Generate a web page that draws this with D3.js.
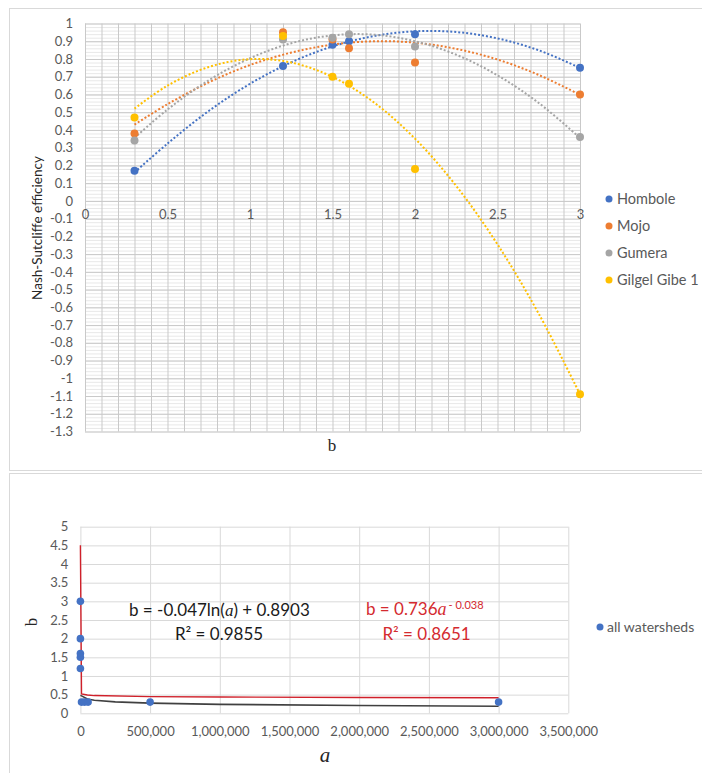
<!DOCTYPE html>
<html>
<head>
<meta charset="utf-8">
<script src="https://cdn.jsdelivr.net/npm/d3@7"></script>
<style>
  body { margin: 0; background: #fff; }
  svg { display: block; font-family: Lato, "Noto Sans", sans-serif; }
</style>
</head>
<body>
<div id="chart"></div>
<script>
// ----------------------------
// Data
// ----------------------------

// top panel: NSE against b for four watersheds
const seriesNames = ["Hombole", "Mojo", "Gumera", "Gilgel Gibe 1"];
const seriesColors = ["#4472C4", "#ED7D31", "#A5A5A5", "#FFC000"];
const bValues = [0.3, 1.2, 1.5, 1.6, 2, 3];
const hombole = [0.17, 0.76, 0.88, 0.90, 0.94, 0.75];
const mojo = [0.38, 0.95, 0.91, 0.86, 0.78, 0.60];
const gumera = [0.34, 0.91, 0.92, 0.94, 0.87, 0.36];
const gilgelGibe = [0.47, 0.93, 0.70, 0.66, 0.18, -1.09];

// dotted polynomial trendlines
const trendB = [0.3, 0.5, 0.75, 1, 1.25, 1.5, 1.75, 2, 2.25, 2.5, 2.75, 3];
const hombole_trend = [0.16, 0.323, 0.507, 0.66, 0.781, 0.871, 0.929, 0.956, 0.952, 0.916, 0.849, 0.75];
const mojo_trend = [0.43, 0.545, 0.668, 0.766, 0.836, 0.881, 0.90, 0.892, 0.857, 0.797, 0.71, 0.598];
const gumera_trend = [0.355, 0.515, 0.68, 0.804, 0.889, 0.933, 0.937, 0.90, 0.824, 0.708, 0.552, 0.355];
const gilgel_trend = [0.52, 0.65, 0.755, 0.799, 0.78, 0.699, 0.556, 0.351, 0.084, -0.245, -0.636, -1.09];

const topYTicks = [1, 0.9, 0.8, 0.7, 0.6, 0.5, 0.4, 0.3, 0.2, 0.1, 0, -0.1, -0.2, -0.3, -0.4, -0.5, -0.6, -0.7, -0.8, -0.9, -1, -1.1, -1.2, -1.3];
const topXTicks = [0, 0.5, 1, 1.5, 2, 2.5, 3];

// bottom panel: b against a for all watersheds
const aAll = [2, 5, 8, 10, 20, 8000, 30000, 55000, 500000, 3000000];
const bAll = [3, 2, 1.6, 1.5, 1.2, 0.3, 0.3, 0.3, 0.3, 0.3];

// trendlines as drawn (log = black, power = red)
const logTrendA = [0, 8000, 50000, 100000, 250000, 500000, 1000000, 2000000, 3000000];
const logTrendB = [0.48, 0.467, 0.383, 0.35, 0.306, 0.273, 0.24, 0.208, 0.189];
const powTrendA = [0, 8000, 50000, 100000, 500000, 1000000, 2000000, 3000000];
const powTrendB = [4.5, 0.52, 0.49, 0.475, 0.447, 0.436, 0.425, 0.417];

const botYTicks = [0, 0.5, 1, 1.5, 2, 2.5, 3, 3.5, 4, 4.5, 5];
const botXTicks = [0, 500000, 1000000, 1500000, 2000000, 2500000, 3000000, 3500000];

const width = 702;
const height = 773;
const tickColor = "#595959";

const svg = d3.create("svg")
    .attr("width", width)
    .attr("height", height)
    .attr("viewBox", [0, 0, width, height]);

// panel frames
svg.append("rect").attr("x", 9.5).attr("y", 8.5).attr("width", 720).attr("height", 462)
    .attr("fill", "none").attr("stroke", "#d9d9d9");
svg.append("rect").attr("x", 9.5).attr("y", 473.5).attr("width", 720).attr("height", 320)
    .attr("fill", "none").attr("stroke", "#d9d9d9");

// ----------------------------
// Top chart
// ----------------------------

const xTop = d3.scaleLinear().domain([0, 3]).range([85, 580]);
const yTop = d3.scaleLinear().domain([-1.3, 1]).range([431.5, 23.5]);

// minor horizontal gridlines
svg.append("g")
    .attr("transform", `translate(${xTop(0)},0)`)
    .call(d3.axisLeft(yTop).ticks(115).tickSize(-(xTop(3) - xTop(0))).tickFormat(""))
    .call(g => g.select(".domain").remove())
    .call(g => g.selectAll("line").attr("stroke", "#e8e8e8"));

// major gridlines
svg.append("g")
    .attr("transform", `translate(${xTop(0)},0)`)
    .call(d3.axisLeft(yTop).tickValues(topYTicks).tickSize(-(xTop(3) - xTop(0))).tickFormat(""))
    .call(g => g.select(".domain").remove())
    .call(g => g.selectAll("line").attr("stroke", "#c9c9c9"));

svg.append("g")
    .attr("transform", `translate(0,${yTop(-1.3)})`)
    .call(d3.axisBottom(xTop).ticks(30).tickSize(-(yTop(-1.3) - yTop(1))).tickFormat(""))
    .call(g => g.select(".domain").remove())
    .call(g => g.selectAll("line").attr("stroke", "#c9c9c9"));

// y tick labels
svg.append("g")
    .attr("transform", `translate(${xTop(0)},0)`)
    .call(d3.axisLeft(yTop).tickValues(topYTicks).tickSize(0).tickPadding(12)
        .tickFormat(d => String(+d.toFixed(1))))
    .call(g => g.select(".domain").remove())
    .call(g => g.selectAll("text").attr("fill", tickColor).style("font-size", "13px").style("font-family", "Lato"));

// x tick labels sit on the zero line
svg.append("g")
    .attr("transform", `translate(0,${yTop(0)})`)
    .call(d3.axisBottom(xTop).tickValues(topXTicks).tickSize(0).tickPadding(9).tickFormat(d => String(d)))
    .call(g => g.select(".domain").remove())
    .call(g => g.selectAll("text").attr("fill", tickColor).style("font-size", "13px").style("font-family", "Lato"));

// trendlines
const topLine = d3.line()
    .x(d => xTop(d[0]))
    .y(d => yTop(d[1]))
    .curve(d3.curveCatmullRom);

const trends = [hombole_trend, mojo_trend, gumera_trend, gilgel_trend];
trends.forEach((t, i) => {
    svg.append("path")
        .datum(trendB.map((b, j) => [b, t[j]]))
        .attr("d", topLine)
        .attr("fill", "none")
        .attr("stroke", seriesColors[i])
        .attr("stroke-width", 2)
        .attr("stroke-dasharray", "2 2");
});

// points
const seriesValues = [hombole, mojo, gumera, gilgelGibe];
seriesValues.forEach((vals, i) => {
    svg.append("g")
        .selectAll("circle")
        .data(bValues.map((b, j) => [b, vals[j]]))
        .join("circle")
            .attr("cx", d => xTop(d[0]))
            .attr("cy", d => yTop(d[1]))
            .attr("r", 4)
            .attr("fill", seriesColors[i]);
});

// axis titles
svg.append("text")
    .attr("transform", `translate(42,228) rotate(-90)`)
    .attr("text-anchor", "middle")
    .attr("fill", "#262626")
    .style("font-size", "13.5px")
    .text("Nash-Sutcliffe efficiency");

svg.append("text")
    .attr("x", 332)
    .attr("y", 451)
    .attr("text-anchor", "middle")
    .attr("fill", "#262626")
    .style("font-family", "Liberation Serif")
    .style("font-size", "17px")
    .text("b");

// legend
const legend = svg.append("g")
    .selectAll("g")
    .data(seriesNames)
    .join("g")
        .attr("transform", (d, i) => `translate(609,${199 + i * 27})`);
legend.append("circle").attr("r", 3.5).attr("fill", (d, i) => seriesColors[i]);
legend.append("text")
    .attr("x", 8)
    .attr("dy", "0.35em")
    .attr("fill", tickColor)
    .style("font-size", "14.5px")
    .text(d => d);

// ----------------------------
// Bottom chart
// ----------------------------

const xBot = d3.scaleLinear().domain([0, 3500000]).range([80.4, 568.3]);
const yBot = d3.scaleLinear().domain([0, 5]).range([713.3, 526.7]);

svg.append("g")
    .attr("transform", `translate(${xBot(0)},0)`)
    .call(d3.axisLeft(yBot).tickValues(botYTicks).tickSize(-(xBot(3500000) - xBot(0))).tickFormat(""))
    .call(g => g.select(".domain").remove())
    .call(g => g.selectAll("line").attr("stroke", "#d9d9d9"));

svg.append("g")
    .attr("transform", `translate(0,${yBot(0)})`)
    .call(d3.axisBottom(xBot).tickValues(botXTicks).tickSize(-(yBot(0) - yBot(5))).tickFormat(""))
    .call(g => g.select(".domain").remove())
    .call(g => g.selectAll("line").attr("stroke", "#d9d9d9"));

svg.append("g")
    .attr("transform", `translate(${xBot(0)},0)`)
    .call(d3.axisLeft(yBot).tickValues(botYTicks).tickSize(0).tickPadding(12).tickFormat(d => String(d)))
    .call(g => g.select(".domain").remove())
    .call(g => g.selectAll("text").attr("fill", tickColor).style("font-size", "13px").style("font-family", "Lato"));

svg.append("g")
    .attr("transform", `translate(0,${yBot(0)})`)
    .call(d3.axisBottom(xBot).tickValues(botXTicks).tickSize(0).tickPadding(13).tickFormat(d3.format(",")))
    .call(g => g.select(".domain").remove())
    .call(g => g.selectAll("text").attr("fill", tickColor).style("font-size", "13px").style("font-family", "Lato"));

const botLine = d3.line()
    .x(d => xBot(d[0]))
    .y(d => yBot(d[1]));

svg.append("path")
    .datum(logTrendA.map((a, i) => [a, logTrendB[i]]))
    .attr("d", botLine)
    .attr("fill", "none")
    .attr("stroke", "#404040")
    .attr("stroke-width", 1.6);

svg.append("path")
    .datum(powTrendA.map((a, i) => [a, powTrendB[i]]))
    .attr("d", botLine)
    .attr("fill", "none")
    .attr("stroke", "#d0202a")
    .attr("stroke-width", 1.4);

svg.append("g")
    .selectAll("circle")
    .data(aAll.map((a, i) => [a, bAll[i]]))
    .join("circle")
        .attr("cx", d => xBot(d[0]))
        .attr("cy", d => yBot(d[1]))
        .attr("r", 3.8)
        .attr("fill", "#4472C4");

// trendline equations
const eq1 = svg.append("text")
    .attr("x", 129)
    .attr("y", 616)
    .attr("fill", "#1a1a1a")
    .style("font-size", "17px");
eq1.append("tspan").text("b = -0.047ln(");
eq1.append("tspan").style("font-family", "Liberation Serif").style("font-style", "italic").text("a");
eq1.append("tspan").text(") + 0.8903");

svg.append("text")
    .attr("x", 219)
    .attr("y", 640)
    .attr("text-anchor", "middle")
    .attr("fill", "#1a1a1a")
    .style("font-size", "17px")
    .text("R² = 0.9855");

const eq2 = svg.append("text")
    .attr("x", 366)
    .attr("y", 615)
    .attr("fill", "#d42a2f")
    .style("font-size", "17px");
eq2.append("tspan").text("b = 0.736");
eq2.append("tspan").style("font-family", "Liberation Serif").style("font-style", "italic").style("font-size", "18px").text("a");
eq2.append("tspan").attr("dy", -6).attr("dx", 2).style("font-size", "11px").text("- 0.038");

svg.append("text")
    .attr("x", 426.5)
    .attr("y", 640)
    .attr("text-anchor", "middle")
    .attr("fill", "#d42a2f")
    .style("font-size", "17px")
    .text("R² = 0.8651");

// axis titles
svg.append("text")
    .attr("transform", `translate(37,622) rotate(-90)`)
    .attr("text-anchor", "middle")
    .attr("fill", "#262626")
    .style("font-family", "Liberation Serif")
    .style("font-size", "17px")
    .text("b");

svg.append("text")
    .attr("x", 325)
    .attr("y", 762)
    .attr("text-anchor", "middle")
    .attr("fill", "#262626")
    .style("font-family", "Liberation Serif")
    .style("font-style", "italic")
    .style("font-size", "21px")
    .text("a");

// legend
svg.append("circle").attr("cx", 600).attr("cy", 627).attr("r", 3.5).attr("fill", "#4472C4");
svg.append("text")
    .attr("x", 607)
    .attr("y", 627)
    .attr("dy", "0.35em")
    .attr("fill", tickColor)
    .style("font-size", "14px")
    .text("all watersheds");

document.getElementById("chart").appendChild(svg.node());
</script>
</body>
</html>
